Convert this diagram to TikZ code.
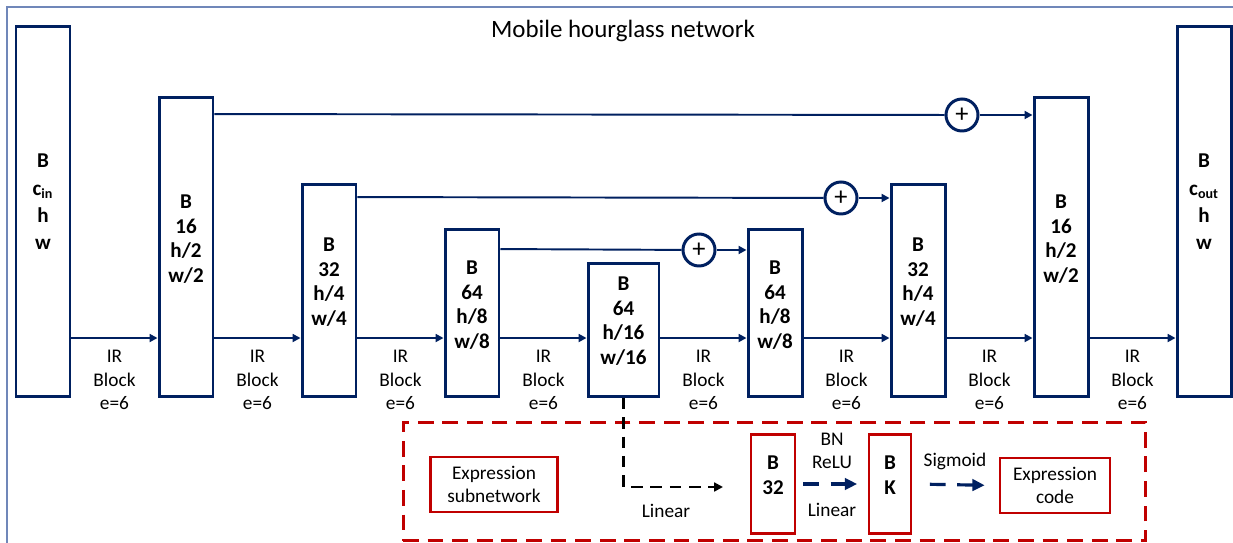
\documentclass[tikz,border=0pt]{standalone}
\usepackage{fontspec}
\setmainfont{Carlito}
\usetikzlibrary{arrows.meta,positioning,calc}
\definecolor{navy}{RGB}{0,32,96}
\definecolor{expred}{RGB}{192,0,0}
\definecolor{frameblue}{RGB}{112,135,185}

\begin{document}
\begin{tikzpicture}[x=0.02cm, y=-0.02cm,
    blk/.style={draw=navy, line width=1.7pt, minimum width=1.08cm, anchor=south, inner sep=0pt},
    lbl/.style={font=\fontsize{12}{14}\selectfont\bfseries, align=center, text=black},
    ir/.style={font=\fontsize{11}{13.3}\selectfont, align=center, text=black},
    arr/.style={-{Triangle[length=4.5pt,width=4.5pt]}, line width=1.1pt, navy},
    plus/.style={circle, draw=navy, line width=1.7pt, minimum size=0.64cm, inner sep=0pt, fill=white, font=\fontsize{15}{15}\selectfont},
    rbox/.style={draw=expred, line width=1.5pt, align=center, inner sep=0pt, font=\fontsize{11}{13.3}\selectfont},
    bdash/.style={-{Triangle[length=5pt,width=5pt]}, line width=1.2pt, black, dash pattern=on 6.5pt off 4.5pt},
    ndash/.style={-{Triangle[length=7pt,width=6.5pt]}, line width=1.8pt, navy, dash pattern=on 9pt off 6.5pt},
]
\useasboundingbox (0,0) rectangle (1233,543);
\draw[frameblue, line width=1.1pt] (7,543) |- (1233,7);

% Title
\node[font=\fontsize{14.2}{17}\selectfont] (title) at (623,31) {Mobile hourglass network};

% Encoder / decoder tensors
\node[blk, minimum height=7.4cm] (b1) at (43,398) {};
\node[blk, minimum height=5.98cm] (b2) at (186,398) {};
\node[blk, minimum height=4.24cm] (b3) at (329,398) {};
\node[blk, minimum height=3.34cm] (b4) at (472,398) {};
\node[blk, minimum height=2.66cm, minimum width=1.42cm] (b5) at (623.5,398) {};
\node[blk, minimum height=3.34cm] (b6) at (775,398) {};
\node[blk, minimum height=4.24cm] (b7) at (918,398) {};
\node[blk, minimum height=5.98cm] (b8) at (1061,398) {};
\node[blk, minimum height=7.4cm] (b9) at (1204,398) {};

% Tensor sizes
\node[lbl, font=\fontsize{12}{15.5}\selectfont\bfseries] (t1) at (43,202) {B\\c\textsubscript{in}\\h\\w};
\node[lbl] (t2) at (186,239) {B\\16\\h/2\\w/2};
\node[lbl] (t3) at (329,282) {B\\32\\h/4\\w/4};
\node[lbl] (t4) at (472,305) {B\\64\\h/8\\w/8};
\node[lbl] (t5) at (623.5,321) {B\\64\\h/16\\w/16};
\node[lbl] (t6) at (775,305) {B\\64\\h/8\\w/8};
\node[lbl] (t7) at (918,282) {B\\32\\h/4\\w/4};
\node[lbl] (t8) at (1061,239) {B\\16\\h/2\\w/2};
\node[lbl, font=\fontsize{12}{15.5}\selectfont\bfseries] (t9) at (1204,202) {B\\c\textsubscript{out}\\h\\w};

% IR blocks
\foreach \i/\j in {1/2,2/3,3/4,4/5,5/6,6/7,7/8,8/9}{
  \draw[arr] ([yshift=1.2cm]b\i.south east) -- ([yshift=1.2cm]b\j.south west);
  \node[ir] (ir\i) at ($(b\i.south east)!0.5!(b\j.south west)+(0,-18)$) {IR\\Block\\e=6};
}

% Skip connections
\node[plus] (p1) at (962,115) {+};
\node[plus] (p2) at (841,198) {+};
\node[plus] (p3) at (699,250) {+};
\draw[arr, -] ([yshift=-0.36cm]b2.north east) -- (p1);
\draw[arr] (p1) -- (p1 -| b8.west);
\draw[arr, -] ([yshift=-0.28cm]b3.north east) -- (p2);
\draw[arr] (p2) -- (p2 -| b7.west);
\draw[arr, -] ([yshift=-0.42cm]b4.north east) -- (p3);
\draw[arr] (p3) -- (p3 -| b6.west);

% Expression subnetwork
\node[draw=expred, line width=1.7pt, dash pattern=on 9pt off 5pt, minimum width=14.86cm, minimum height=2.38cm, inner sep=0pt] (exp) at (774.5,481.5) {};
\node[rbox, minimum width=2.54cm, minimum height=1.1cm] (sub) at (494,484.5) {Expression\\subnetwork};
\node[rbox, minimum width=0.88cm, minimum height=1.98cm] (e32) at (773,484) {};
\node[lbl] (t32) at (773,475) {B\\32};
\node[rbox, minimum width=0.84cm, minimum height=1.98cm] (ek) at (890,484) {};
\node[lbl] (tk) at (890,475) {B\\K};
\node[rbox, minimum width=2.2cm, minimum height=1.1cm] (code) at (1055,485.5) {Expression\\code};

\coordinate (lin) at (723,487);
\draw[bdash] (b5.south) |- (lin);
\node[ir] (l1) at (666,511) {Linear};
\draw[ndash, shorten <=4pt, shorten >=6pt] (e32.east) -- (ek.west);
\node[ir] (l2) at (832,451) {BN\\ReLU};
\node[ir] (l3) at (832,510) {Linear};
\draw[ndash, shorten <=10pt, shorten >=8pt] (ek.east) -- (code.west);
\node[ir] (l4) at (955,461) {Sigmoid};
\end{tikzpicture}
\end{document}
